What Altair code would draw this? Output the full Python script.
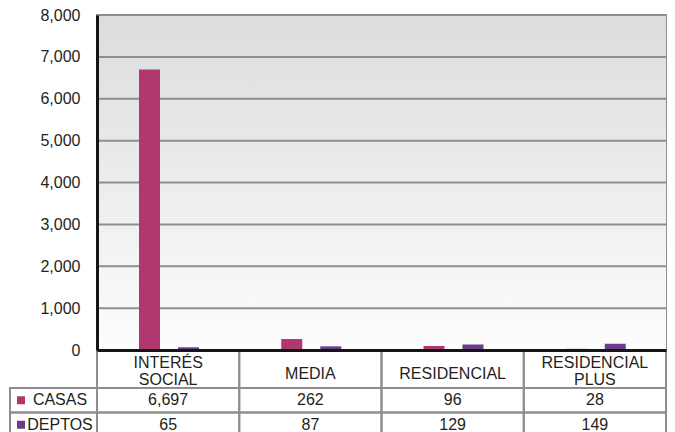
import altair as alt
import pandas as pd

categorias = ["INTERÉS SOCIAL", "MEDIA", "RESIDENCIAL", "RESIDENCIAL PLUS"]
series = ["CASAS", "DEPTOS"]
casas = [6697, 262, 96, 28]
deptos = [65, 87, 129, 149]
y_ticks = [0, 1000, 2000, 3000, 4000, 5000, 6000, 7000, 8000]
colores = ["#B0386F", "#693C8C"]

rows = []
for c, v in zip(categorias, casas):
    rows.append({"cat": c, "serie": "CASAS", "value": v})
for c, v in zip(categorias, deptos):
    rows.append({"cat": c, "serie": "DEPTOS", "value": v})
df = pd.DataFrame(rows)
df_series = pd.DataFrame({"serie": series})
df_ticks = pd.DataFrame({"v": y_ticks[1:]})
df_cats = pd.DataFrame({"cat": categorias, "hdr": ["h"] * len(categorias)})
df_one = pd.DataFrame({"k": [1]})

W, H = 569, 335
LEG = 87
FONT = "Liberation Sans, Arial, sans-serif"
FS = 16
TXT = "#231F20"
GRID = "#8E8E8E"
DARK = "#151515"

x_enc = alt.X(
    "cat:N",
    sort=categorias,
    scale=alt.Scale(domain=categorias, paddingInner=0, paddingOuter=0),
    axis=alt.Axis(
        title=None, labels=False, ticks=False,
        domainColor=DARK, domainWidth=3, zindex=1,
    ),
)

row_enc = alt.Y(
    "serie:N",
    scale=alt.Scale(type="band", domain=series, range=[373, 422], paddingInner=0, paddingOuter=0),
    axis=None,
)

hdr_enc = alt.Y(
    "hdr:N",
    scale=alt.Scale(type="band", domain=["h"], range=[335, 373], paddingInner=0, paddingOuter=0),
    axis=None,
)

color_enc = alt.Color("serie:N", scale=alt.Scale(domain=series, range=colores), legend=None)

bg = alt.Chart(df_one).mark_rect(
    fill=alt.Gradient(
        gradient="linear",
        stops=[alt.GradientStop(color="#DBDCDE", offset=0), alt.GradientStop(color="#FDFDFD", offset=1)],
        x1=0, x2=0, y1=0, y2=1,
    )
).encode(x=alt.value(0), x2=alt.value(W), y=alt.value(0), y2=alt.value(H))

grid = alt.Chart(df_ticks).mark_rule(color=GRID, strokeWidth=2).encode(
    y=alt.Y("v:Q", scale=alt.Scale(domain=[0, 8000], nice=False), axis=None)
)

bars = alt.Chart(df).mark_bar().encode(
    x=x_enc,
    xOffset=alt.XOffset("serie:N", scale=alt.Scale(domain=series, range=[42, 102], paddingInner=0.462, paddingOuter=0)),
    y=alt.Y(
        "value:Q",
        scale=alt.Scale(domain=[0, 8000], nice=False),
        axis=alt.Axis(
            values=y_ticks, format=",d", title=None, ticks=False, grid=False,
            labelPadding=17, labelFontSize=FS, labelColor=TXT,
            domainColor=DARK, domainWidth=3, zindex=1,
        ),
    ),
    color=color_enc,
)

hdr_cells = alt.Chart(df_cats).mark_rect(fillOpacity=0, stroke=GRID, strokeWidth=2).encode(x=x_enc, y=hdr_enc)

cells = alt.Chart(df).mark_rect(fillOpacity=0, stroke=GRID, strokeWidth=2).encode(x=x_enc, y=row_enc)

leg_cells = alt.Chart(df_series).mark_rect(fillOpacity=0, stroke=GRID, strokeWidth=2).encode(
    x=alt.value(-LEG), x2=alt.value(0), y=row_enc
)

hdr_two = alt.Chart(df_cats).transform_filter("indexof(datum.cat, ' ') >= 0").mark_text(
    fontSize=FS, color=TXT, align="center", baseline="middle", lineBreak=" ", lineHeight=16.5, dy=-6
).encode(x=x_enc, y=hdr_enc, text="cat:N")

hdr_one = alt.Chart(df_cats).transform_filter("indexof(datum.cat, ' ') < 0").mark_text(
    fontSize=FS, color=TXT, align="center", baseline="middle", dy=4.5
).encode(x=x_enc, y=hdr_enc, text="cat:N")

squares = alt.Chart(df_series).mark_point(shape="square", filled=True, size=64, opacity=1).encode(
    x=alt.value(-LEG + 11), y=row_enc, color=color_enc
)

leg_text = alt.Chart(df_series).mark_text(fontSize=FS, color=TXT, align="center", baseline="middle").encode(
    x=alt.value(-LEG + 50), y=row_enc, text="serie:N"
)

values = alt.Chart(df).mark_text(fontSize=FS, color=TXT, align="center", baseline="middle").encode(
    x=x_enc, y=row_enc, text=alt.Text("value:Q", format=",d")
)

chart = alt.layer(
    bg, grid, bars, hdr_cells, cells, leg_cells, hdr_two, hdr_one, squares, leg_text, values
).resolve_scale(
    y="independent"
).properties(
    width=W, height=H,
    autosize=alt.AutoSizeParams(type="none"),
    padding={"left": LEG + 2, "top": 7, "right": 1, "bottom": 82},
).configure(font=FONT).configure_view(stroke=GRID, strokeWidth=2)

chart.save("out.html", embed_options={"renderer": "svg", "actions": False})
